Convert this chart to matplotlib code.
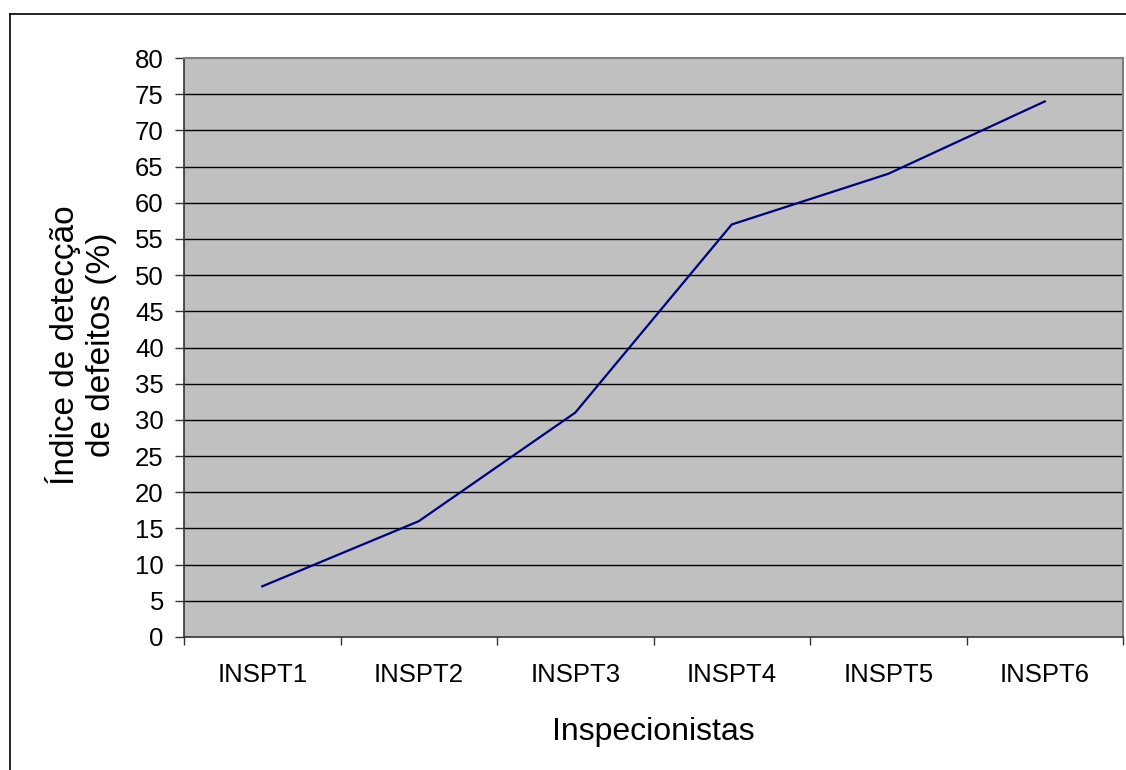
import matplotlib as mpl
mpl.use('Agg')
import matplotlib.pyplot as plt
from matplotlib.lines import Line2D
import numpy as np

plt.rcParams['font.family'] = ['Liberation Sans', 'DejaVu Sans']

inspetores = ["INSPT1", "INSPT2", "INSPT3", "INSPT4", "INSPT5", "INSPT6"]
indice = [7, 16, 31, 57, 64, 74]
yticks = list(range(0, 81, 5))

W, H = 1126, 770
fig = plt.figure(figsize=(W / 100, H / 100), dpi=100)
ax = fig.add_axes([184 / W, 1 - 637 / H, (1123 - 184) / W, (637 - 58) / H])
ax.set_facecolor("#C0C0C0")

xs = np.arange(len(inspetores))
ax.plot(xs, indice, color="#000080", linewidth=1.6, solid_joinstyle="miter")

ax.set_xlim(-0.5, len(inspetores) - 0.5)
ax.set_ylim(0, 80)
ax.set_yticks(yticks)
for y in yticks[1:-1]:
    ax.axhline(y, color="black", linewidth=1.0, zorder=1)

# category boundaries as major ticks, labels on minor ticks at the centres
ax.set_xticks(np.arange(-0.5, len(inspetores), 1.0))
ax.set_xticklabels([])
ax.set_xticks(xs, minor=True)
ax.set_xticklabels(inspetores, minor=True)
ax.tick_params(axis="x", which="major", direction="out", length=6, width=1, color="#333333")
ax.tick_params(axis="x", which="minor", length=0, pad=19, labelsize=18.5)
ax.tick_params(axis="y", direction="out", length=6.5, width=1, color="#333333", pad=8, labelsize=18.5)

for side in ["left", "bottom"]:
    ax.spines[side].set_color("#333333")
    ax.spines[side].set_linewidth(1.2)
for side in ["top", "right"]:
    ax.spines[side].set_color("#808080")
    ax.spines[side].set_linewidth(1.5)

fig.text(81 / W, 1 - 345 / H, "Índice de detecção\nde defeitos (%)", rotation=90,
         ha="center", va="center", fontsize=24, linespacing=1.2)
fig.text(653 / W, 1 - 740 / H, "Inspecionistas", ha="center", va="baseline", fontsize=23)

# outer chart frame (only top and left visible)
fig.add_artist(Line2D([10 / W, 1.0], [1 - 14 / H, 1 - 14 / H], color="black", linewidth=1.2))
fig.add_artist(Line2D([10 / W, 10 / W], [0.0, 1 - 14 / H], color="black", linewidth=1.2))

fig.savefig("out.png", dpi=100)
